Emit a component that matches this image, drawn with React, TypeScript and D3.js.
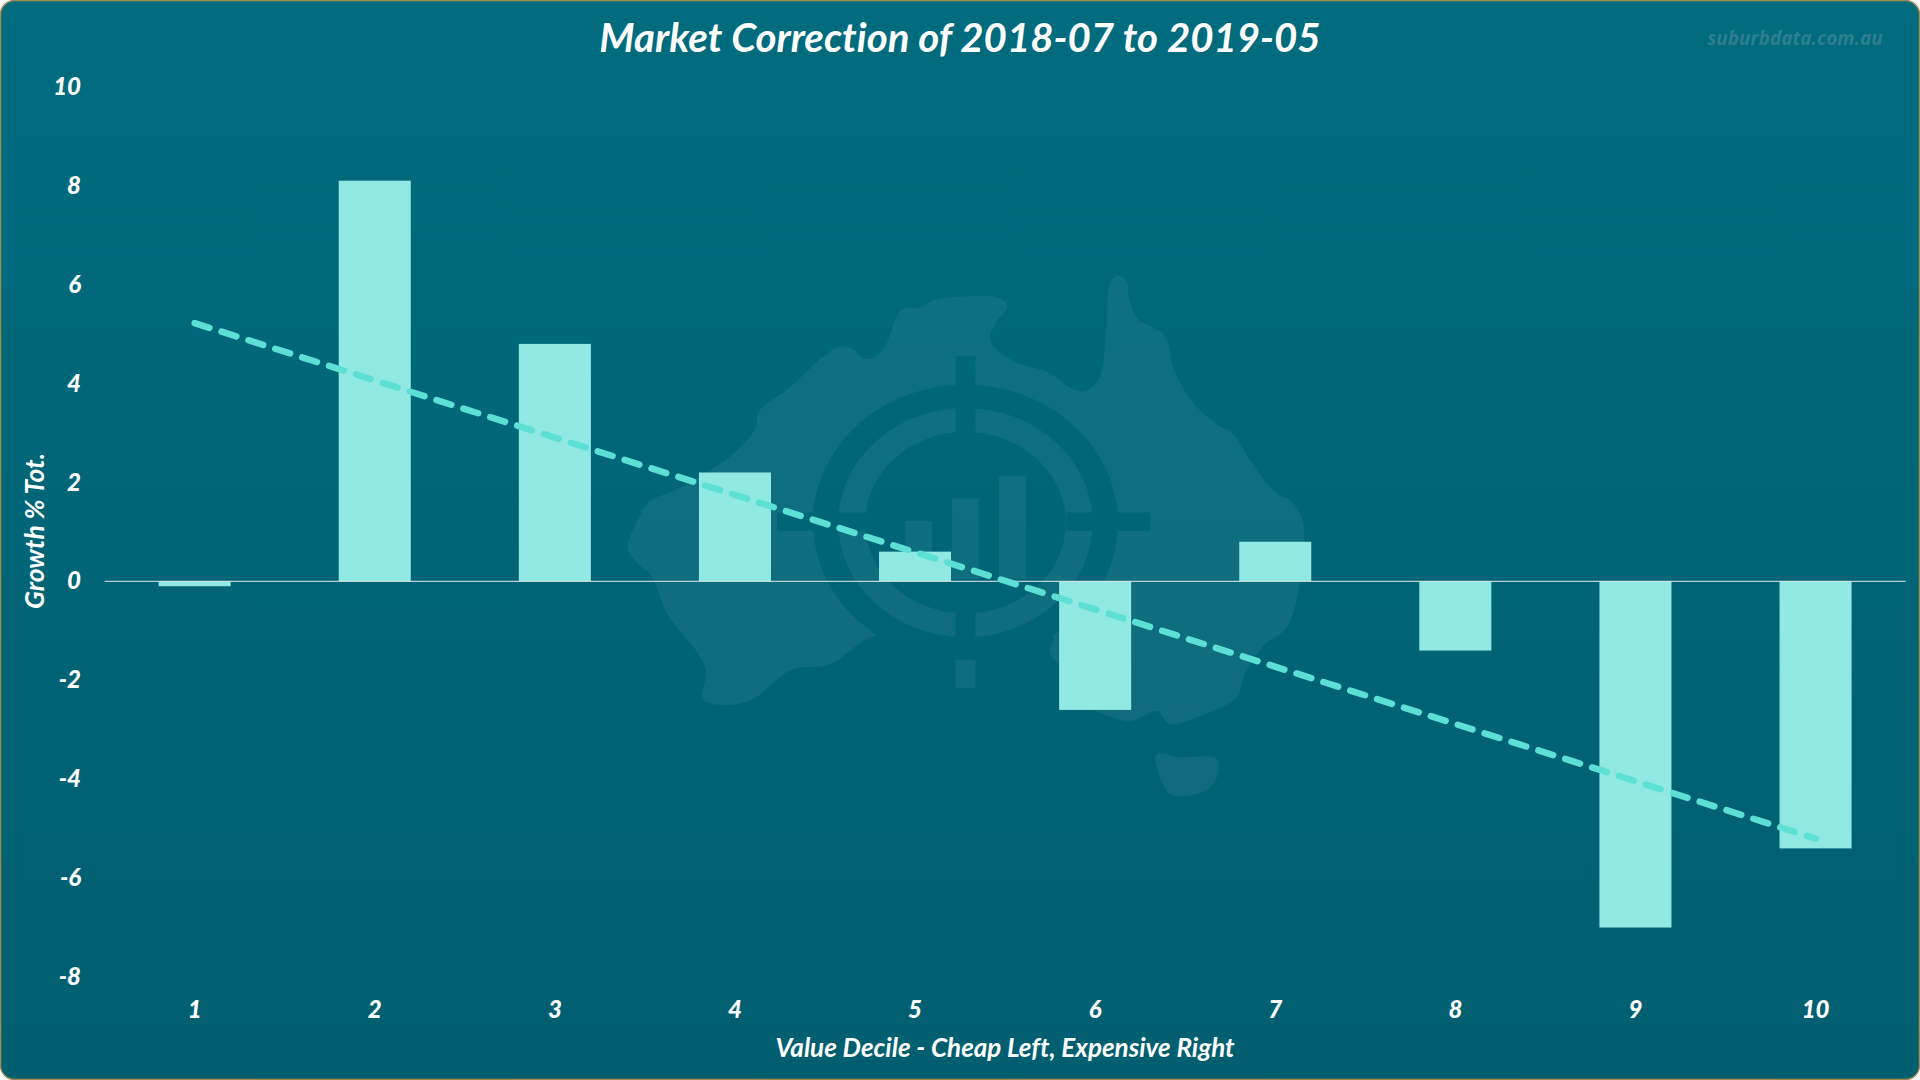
// @ts-nocheck
import React, { useEffect, useRef } from 'react';
import * as d3 from 'd3';

const deciles = ['1', '2', '3', '4', '5', '6', '7', '8', '9', '10'];
const growth = [-0.1, 8.1, 4.8, 2.2, 0.6, -2.6, 0.8, -1.4, -7.0, -5.4];
const trendDeciles = ['1', '10'];
const trendValues = [5.22, -5.2];
const yTicks = [10, 8, 6, 4, 2, 0, -2, -4, -6, -8];

const title = 'Market Correction of 2018-07 to 2019-05';
const watermark = 'suburbdata.com.au';
const xTitle = 'Value Decile - Cheap Left, Expensive Right';
const yTitle = 'Growth % Tot.';

const mainland = [
  [1083, 70], [1102, 90], [1105, 130], [1125, 190], [1180, 235], [1200, 330], [1240, 420], [1290, 480], [1322, 505],
  [1365, 590], [1415, 670], [1445, 690], [1470, 750], [1465, 900], [1435, 1040], [1390, 1085], [1350, 1160],
  [1332, 1228], [1260, 1280], [1190, 1303], [1165, 1268], [1110, 1296], [1050, 1275], [1000, 1240], [985, 1180],
  [940, 1105], [948, 1065], [764, 1100], [580, 1060], [480, 1140], [400, 1155], [320, 1235], [260, 1252], [215, 1235],
  [222, 1160], [205, 1110], [140, 1000], [107, 895], [85, 870], [58, 820], [80, 740], [105, 690], [150, 665],
  [225, 610], [280, 560], [325, 490], [332, 445], [400, 375], [475, 285], [505, 265], [530, 275], [555, 300],
  [590, 278], [630, 165], [670, 158], [705, 135], [770, 128], [830, 130], [852, 155], [830, 195], [815, 240],
  [830, 275], [880, 315], [935, 335], [985, 380], [1015, 388], [1045, 350], [1058, 220], [1067, 90],
];
const tasmania = [
  [1162, 1390], [1182, 1385], [1205, 1395], [1290, 1400], [1290, 1450], [1270, 1485], [1245, 1497], [1192, 1497],
];

const WIDTH = 1920;
const HEIGHT = 1080;
const LABEL_FONT = 'Lato, "Open Sans", sans-serif';

export default function App() {
  const ref = useRef(null);

  useEffect(() => {
    const svg = d3.select(ref.current);
    svg.selectAll('*').remove();

    const x = d3.scaleBand().domain(deciles).range([104.6, 1905.6]).paddingInner(0.6).paddingOuter(0.3);
    const y = d3.scaleLinear().domain([10, -8]).range([86.7, 977]);

    // gradient background
    const grad = svg.append('defs').append('linearGradient')
      .attr('id', 'bg')
      .attr('gradientUnits', 'userSpaceOnUse')
      .attr('x1', 0).attr('y1', 0).attr('x2', 0).attr('y2', HEIGHT);
    grad.append('stop').attr('offset', '0%').attr('stop-color', '#006c7e');
    grad.append('stop').attr('offset', '100%').attr('stop-color', '#005e6f');

    svg.append('rect').attr('width', WIDTH).attr('height', HEIGHT).attr('fill', '#ffffff');
    svg.append('rect')
      .attr('x', 0.5).attr('y', 0.5).attr('width', WIDTH - 1).attr('height', HEIGHT - 1)
      .attr('rx', 14)
      .attr('fill', 'url(#bg)')
      .attr('stroke', '#a08c52')
      .attr('stroke-width', 1.5);

    // watermark logo, crop pixels to page pixels
    const lx = d3.scaleLinear().domain([0, 1568]).range([600, 1350]);
    const ly = d3.scaleLinear().domain([0, 1568]).range([250, 820]);
    const light = '#ffffff';
    const lightAlpha = 0.058;
    const coast = d3.line().x(d => lx(d[0])).y(d => ly(d[1])).curve(d3.curveCatmullRomClosed.alpha(0.5));

    const logo = svg.append('g');
    logo.append('path').attr('d', coast(mainland)).attr('fill', light).attr('fill-opacity', lightAlpha);
    logo.append('path').attr('d', coast(tasmania)).attr('fill', light).attr('fill-opacity', lightAlpha);

    const cx = lx(764);
    const cy = ly(750);
    const ringPx = (rx, ry) => ({ rx: lx(rx) - lx(0), ry: ly(ry) - ly(0) });
    const disc = (r, fill, alpha) => logo.append('ellipse')
      .attr('cx', cx).attr('cy', cy)
      .attr('rx', r.rx).attr('ry', r.ry)
      .attr('fill', fill).attr('fill-opacity', alpha);
    disc(ringPx(319, 380), 'url(#bg)', 1);
    disc(ringPx(266, 315), light, lightAlpha);
    disc(ringPx(210, 250), 'url(#bg)', 1);

    const box = (x0, y0, x1, y1, fill, alpha) => logo.append('rect')
      .attr('x', lx(x0)).attr('y', ly(y0))
      .attr('width', lx(x1) - lx(x0)).attr('height', ly(y1) - ly(y0))
      .attr('fill', fill).attr('fill-opacity', alpha);
    // cross hair
    box(743, 292, 785, 500, 'url(#bg)', 1);
    box(743, 995, 785, 1125, 'url(#bg)', 1);
    box(370, 722, 555, 772, 'url(#bg)', 1);
    box(975, 722, 1150, 772, 'url(#bg)', 1);
    box(743, 1127, 785, 1205, light, lightAlpha);
    // little bars in the middle
    box(638, 745, 694, 905, light, lightAlpha);
    box(736, 683, 792, 905, light, lightAlpha);
    box(834, 622, 891, 905, light, lightAlpha);

    // bars
    svg.append('g')
      .selectAll('rect')
      .data(deciles)
      .join('rect')
      .attr('x', d => x(d))
      .attr('width', x.bandwidth())
      .attr('y', (d, i) => Math.min(y(0), y(growth[i])))
      .attr('height', (d, i) => Math.abs(y(growth[i]) - y(0)))
      .attr('fill', '#98f0e9')
      .attr('fill-opacity', 0.95);

    // zero line
    svg.append('line')
      .attr('x1', x.range()[0]).attr('x2', x.range()[1])
      .attr('y1', y(0)).attr('y2', y(0))
      .attr('stroke', '#e4ecec')
      .attr('stroke-width', 1);

    // trend line
    svg.append('path')
      .datum(trendDeciles)
      .attr('fill', 'none')
      .attr('stroke', '#5ce0d6')
      .attr('stroke-width', 6.5)
      .attr('stroke-linecap', 'round')
      .attr('stroke-dasharray', '15.5 12.7')
      .attr('d', d3.line()
        .x(d => x(d) + x.bandwidth() / 2)
        .y((d, i) => y(trendValues[i]))
      );

    // axes
    const yAxis = svg.append('g')
      .attr('transform', 'translate(81,0)')
      .call(d3.axisLeft(y).tickValues(yTicks).tickSize(0).tickPadding(0).tickFormat(d => String(d)));
    const xAxis = svg.append('g')
      .attr('transform', 'translate(0,1001)')
      .call(d3.axisBottom(x).tickSize(0).tickPadding(0));
    [yAxis, xAxis].forEach(axis => {
      axis.select('.domain').remove();
      axis.selectAll('text')
        .attr('fill', '#ffffff')
        .style('font-family', LABEL_FONT)
        .style('font-size', '24px')
        .style('font-weight', 900)
        .style('font-style', 'italic');
    });

    const label = (text, px, py, size, fill, family = LABEL_FONT) => svg.append('text')
      .attr('x', px).attr('y', py)
      .attr('text-anchor', 'middle')
      .attr('dominant-baseline', 'central')
      .attr('fill', fill)
      .style('font-family', family)
      .style('font-size', `${size}px`)
      .style('font-weight', 700)
      .style('font-style', 'italic')
      .style('font-variant-ligatures', 'none')
      .text(text);

    label(title, 960, 36, 40.2, '#ffffff');
    label(watermark, 1795, 38, 19, '#2f7f8e', '"Open Sans", sans-serif');
    label(xTitle, 1005, 1047, 26, '#ffffff');
    label(yTitle, 0, 0, 26.4, '#ffffff').attr('transform', 'translate(34,531) rotate(-90)');
  }, []);

  return (
    <svg
      ref={ref}
      width={WIDTH}
      height={HEIGHT}
      style={{ position: 'absolute', left: 0, top: 0, display: 'block' }}
    />
  );
}
